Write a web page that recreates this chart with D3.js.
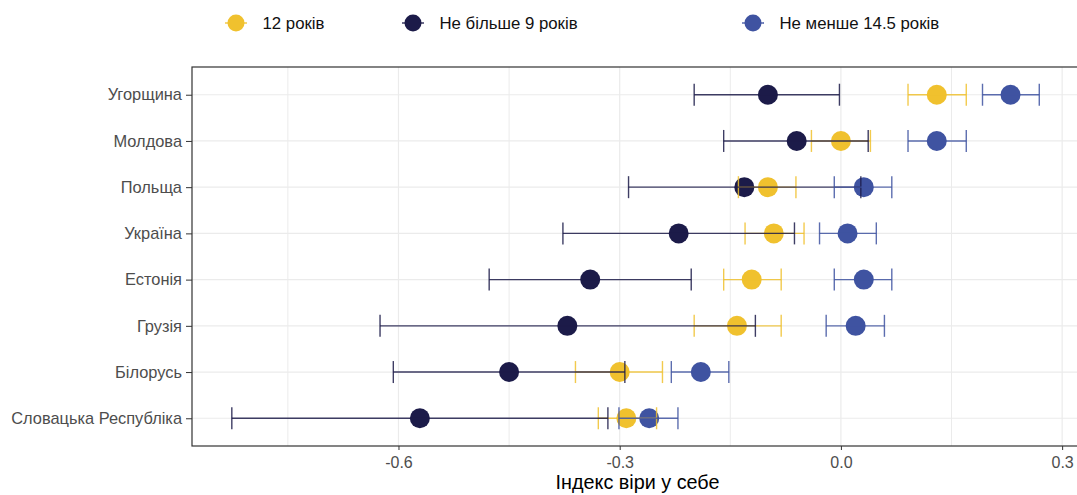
<!DOCTYPE html>
<html>
<head>
<meta charset="utf-8">
<script src="https://cdn.jsdelivr.net/npm/d3@7"></script>
<style>
  body { margin: 0; background: #fff; }
  svg { display: block; font-family: "Liberation Sans", Arial, sans-serif; }
</style>
</head>
<body>
<svg id="chart" width="1077" height="495"></svg>
<script>
const categories = ["Угорщина", "Молдова", "Польща", "Україна", "Естонія", "Грузія", "Білорусь", "Словацька Республіка"];
const seriesNames = ["12 років", "Не більше 9 років", "Не менше 14.5 років"];
const seriesColors = ["#F0C12E", "#1C1B49", "#3F53A1"];

// 12 років
const est12 = [0.130, 0.000, -0.099, -0.091, -0.121, -0.141, -0.300, -0.291];
const lo12  = [0.091, -0.040, -0.139, -0.130, -0.159, -0.199, -0.360, -0.329];
const hi12  = [0.170, 0.040, -0.061, -0.050, -0.081, -0.081, -0.242, -0.250];
// Не більше 9 років
const est9 = [-0.099, -0.060, -0.131, -0.220, -0.340, -0.371, -0.450, -0.571];
const lo9  = [-0.199, -0.159, -0.288, -0.377, -0.477, -0.625, -0.607, -0.826];
const hi9  = [-0.002, 0.037, 0.027, -0.063, -0.203, -0.116, -0.293, -0.316];
// Не менше 14.5 років
const est14 = [0.230, 0.130, 0.031, 0.009, 0.031, 0.020, -0.190, -0.260];
const lo14  = [0.192, 0.091, -0.009, -0.029, -0.009, -0.020, -0.230, -0.301];
const hi14  = [0.269, 0.170, 0.069, 0.048, 0.069, 0.059, -0.152, -0.221];

const xTicks = [-0.6, -0.3, 0.0, 0.3];
const xTickLabels = ["-0.6", "-0.3", "0.0", "0.3"];
const xMinor = [-0.75, -0.45, -0.15, 0.15];
const xTitle = "Індекс віри у себе";

const series = [
  { name: seriesNames[0], color: seriesColors[0], est: est12, lo: lo12, hi: hi12 },
  { name: seriesNames[1], color: seriesColors[1], est: est9, lo: lo9, hi: hi9 },
  { name: seriesNames[2], color: seriesColors[2], est: est14, lo: lo14, hi: hi14 }
];

const svg = d3.select("#chart");
const panel = { left: 192, top: 67, right: 1085, bottom: 446 };

const x = d3.scaleLinear().domain([-0.88, 0.331]).range([panel.left, panel.right]);
const y = d3.scalePoint().domain(categories).range([panel.top, panel.bottom]).padding(0.6);

// grid
const g = svg.append("g");
g.selectAll(".minor").data(xMinor).enter().append("line")
  .attr("x1", d => x(d)).attr("x2", d => x(d))
  .attr("y1", panel.top).attr("y2", panel.bottom)
  .attr("stroke", "#EBEBEB").attr("stroke-width", 1);
g.selectAll(".major").data(xTicks).enter().append("line")
  .attr("x1", d => x(d)).attr("x2", d => x(d))
  .attr("y1", panel.top).attr("y2", panel.bottom)
  .attr("stroke", "#EBEBEB").attr("stroke-width", 1.2);
g.selectAll(".hgrid").data(categories).enter().append("line")
  .attr("x1", panel.left).attr("x2", panel.right)
  .attr("y1", d => y(d)).attr("y2", d => y(d))
  .attr("stroke", "#EBEBEB").attr("stroke-width", 1.2);

// points
series.forEach(s => {
  svg.append("g").selectAll("circle").data(categories).enter().append("circle")
    .attr("cx", (d, i) => x(s.est[i]))
    .attr("cy", d => y(d))
    .attr("r", 10)
    .attr("fill", s.color);
});

// error bars
const capH = 11;
series.forEach(s => {
  const eg = svg.append("g").attr("stroke", s.color).attr("stroke-width", 1.4).attr("stroke-opacity", 0.85).attr("fill", "none");
  categories.forEach((c, i) => {
    const cy = y(c);
    eg.append("line").attr("x1", x(s.lo[i])).attr("x2", x(s.hi[i])).attr("y1", cy).attr("y2", cy);
    eg.append("line").attr("x1", x(s.lo[i])).attr("x2", x(s.lo[i])).attr("y1", cy - capH).attr("y2", cy + capH);
    eg.append("line").attr("x1", x(s.hi[i])).attr("x2", x(s.hi[i])).attr("y1", cy - capH).attr("y2", cy + capH);
  });
});

// panel border
svg.append("rect")
  .attr("x", panel.left).attr("y", panel.top)
  .attr("width", panel.right - panel.left).attr("height", panel.bottom - panel.top)
  .attr("fill", "none").attr("stroke", "#333333").attr("stroke-width", 1.2);

// axes
const xAxis = svg.append("g").attr("transform", `translate(0,${panel.bottom})`)
  .call(d3.axisBottom(x).tickValues(xTicks).tickFormat((d, i) => xTickLabels[i]).tickSize(4).tickPadding(7));
xAxis.select(".domain").remove();
xAxis.selectAll("line").attr("stroke", "#333333");
xAxis.selectAll("text").attr("fill", "#4D4D4D").attr("font-size", "16px")
  .attr("font-family", "'Liberation Sans', Arial, sans-serif");

const yAxis = svg.append("g").attr("transform", `translate(${panel.left},0)`)
  .call(d3.axisLeft(y).tickSize(6).tickPadding(4));
yAxis.select(".domain").remove();
yAxis.selectAll("line").attr("stroke", "#333333");
yAxis.selectAll("text").attr("fill", "#4D4D4D").attr("font-size", "16.4px")
  .attr("font-family", "'Liberation Sans', Arial, sans-serif");

// x title
svg.append("text")
  .attr("x", 637.5).attr("y", 489)
  .attr("text-anchor", "middle")
  .attr("font-size", "19.8px").attr("fill", "#000")
  .text(xTitle);

// legend
const legendX = [236, 413, 753];
const lg = svg.append("g");
series.forEach((s, i) => {
  const cx = legendX[i], cy = 23;
  lg.append("line").attr("x1", cx - 11).attr("x2", cx + 11).attr("y1", cy).attr("y2", cy)
    .attr("stroke", s.color).attr("stroke-width", 1.3);
  lg.append("circle").attr("cx", cx).attr("cy", cy).attr("r", 8.5).attr("fill", s.color);
  lg.append("text").attr("x", cx + 26.5).attr("y", cy).attr("dy", "0.36em")
    .attr("font-size", "16.8px").attr("fill", "#111").text(s.name);
});
</script>
</body>
</html>
